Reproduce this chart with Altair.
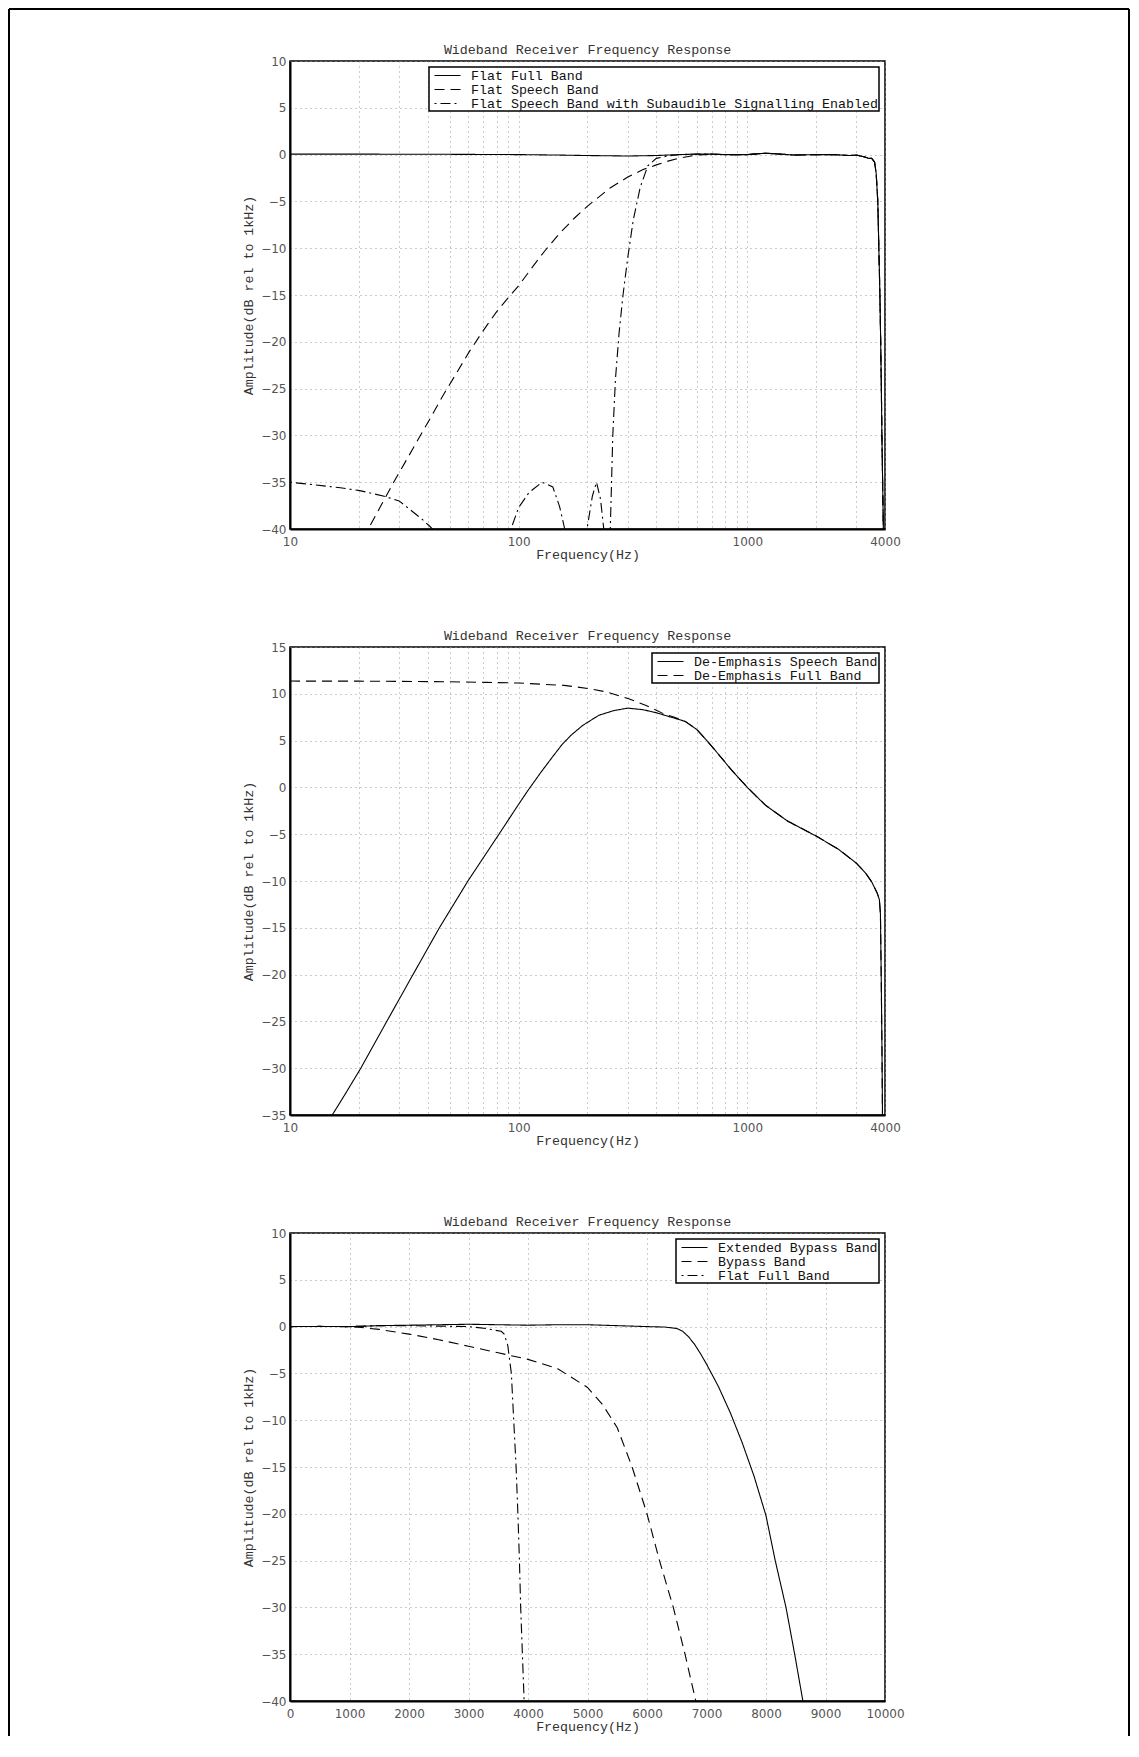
import altair as alt
import pandas as pd

TITLE = "Wideband Receiver Frequency Response"
X_TITLE = "Frequency(Hz)"
Y_TITLE = "Amplitude(dB rel to 1kHz)"

# ---------------- Panel 1 (log x, 10..4000 Hz) ----------------
P1_NAMES = ["Flat Full Band", "Flat Speech Band",
            "Flat Speech Band with Subaudible Signalling Enabled"]
P1_FULL_F = [10, 20, 50, 100, 150, 200, 300, 400, 500, 600,
             700, 800, 1000, 1200, 1400, 1600, 2000, 2400, 2800, 3000,
             3200, 3400, 3500, 3600, 3660, 3720, 3760, 3800, 3830, 3856,
             3877, 3906, 3935, 4000]
P1_FULL_DB = [0.05, 0.05, 0.03, 0.0, -0.05, -0.1, -0.15, -0.1, 0.0, 0.05,
              0.05, 0.0, 0.0, 0.15, 0.05, -0.05, 0.0, 0.0, -0.1, -0.05,
              -0.2, -0.4, -0.4, -0.8, -2.0, -5.0, -10.0, -15.0, -20.0, -25.0,
              -30.0, -35.0, -40.0, -45.0]
P1_SPEECH_F = [19, 22, 25, 28.4, 32, 36, 41, 46, 53, 61, 70,
               80, 90, 100, 115, 130, 150, 175, 200, 250, 300,
               350, 400, 450, 500, 600]
P1_SPEECH_DB = [-42.5, -40, -37.5, -35, -32.8, -30.6, -28.2, -26.0, -23.5, -21.0, -18.8,
                -16.8, -15.3, -14.0, -12.0, -10.3, -8.5, -6.8, -5.5, -3.6, -2.4,
                -1.6, -1.1, -0.7, -0.4, -0.05]
P1_SIG_F = [10, 13, 16.6, 20.2, 25.8, 30, 34.2, 38, 40.4, 42,
            60, 92.5, 100, 111, 126.5, 141, 151, 159, 180, 199,
            210, 219, 228, 235.6, 243, 251.6, 258, 265, 275, 286,
            300, 317, 340, 367, 400, 450]
P1_SIG_DB = [-35, -35.3, -35.6, -35.9, -36.5, -37.0, -38.1, -39.0, -39.6, -40,
             -70, -40, -37.7, -36.1, -35, -35.5, -37.6, -40, -70, -40,
             -36.5, -35, -36.8, -40, -70, -40, -30, -24, -19, -15,
             -11, -7, -3.5, -1.2, -0.4, -0.15]

# ---------------- Panel 2 (log x, 10..4000 Hz) ----------------
P2_NAMES = ["De-Emphasis Speech Band", "De-Emphasis Full Band"]
P2_SPEECH_F = [14, 15.3, 17.4, 20.4, 26.5, 34.5, 45, 60, 82, 100,
               110, 125, 140, 155, 170, 190, 224, 260, 300, 350,
               400, 450, 480, 535, 600, 666, 750, 850, 1000, 1200,
               1500, 2000, 2500, 3000, 3300, 3500, 3700, 3780, 3820, 3850,
               3880, 3900, 3950]
P2_SPEECH_DB = [-37.5, -35, -32.8, -30, -25, -20, -15, -10, -5, -1.8,
                -0.3, 1.6, 3.2, 4.6, 5.6, 6.6, 7.7, 8.2, 8.47, 8.3,
                7.98, 7.6, 7.4, 7.05, 6.2, 5.0, 3.5, 1.9, 0.0, -1.9,
                -3.6, -5.2, -6.6, -8.1, -9.2, -10.1, -11.3, -12.0, -13.5, -20,
                -28, -35, -42]
P2_FULL_F = [10, 20, 30, 50, 72, 100, 158, 205, 244, 303, 361, 430, 480, 535]
P2_FULL_DB = [11.36, 11.35, 11.33, 11.28, 11.22, 11.15, 10.9, 10.54, 10.18,
              9.47, 8.76, 7.87, 7.5, 7.05]

# ---------------- Panel 3 (linear x, 0..10000 Hz) ----------------
P3_NAMES = ["Extended Bypass Band", "Bypass Band", "Flat Full Band"]
P3_EXT_F = [0, 500, 1000, 1500, 2000, 2500, 3000, 3500, 4000, 4500,
            5000, 5500, 6000, 6300, 6500, 6600, 6700, 6800, 6900, 7000,
            7200, 7400, 7600, 7800, 8000, 8155, 8336, 8482, 8620, 8700]
P3_EXT_DB = [0, 0.02, 0.0, 0.1, 0.15, 0.2, 0.25, 0.2, 0.15, 0.2,
             0.2, 0.1, 0.0, -0.05, -0.2, -0.5, -1.1, -1.9, -2.9, -4.0,
             -6.4, -9.2, -12.4, -16.0, -20.2, -25, -30, -35, -40, -43]
P3_BYP_F = [0, 500, 1000, 1200, 1500, 2000, 2500, 3000, 3500, 4000,
            4500, 5000, 5250, 5500, 5750, 6000, 6210, 6442, 6639, 6820, 6900]
P3_BYP_DB = [0, 0.02, 0.0, -0.1, -0.3, -0.8, -1.4, -2.1, -2.8, -3.5,
             -4.5, -6.5, -8.3, -10.8, -15.0, -20.0, -25, -30, -35, -40, -42]
P3_FLAT_F = [0, 500, 1000, 1500, 2000, 2500, 3000, 3300, 3450, 3550,
             3600, 3660, 3720, 3760, 3800, 3830, 3856, 3877, 3906, 3935, 3960]
P3_FLAT_DB = [0, 0.02, 0.0, 0.1, 0.1, 0.05, 0, -0.2, -0.4, -0.5,
              -0.8, -2.0, -5.0, -10.0, -15.0, -20.0, -25.0, -30.0, -35.0, -40.0, -44.0]

LOG_TICKS = [10, 20, 30, 40, 50, 60, 70, 80, 90, 100, 200, 300, 400, 500, 600,
             700, 800, 900, 1000, 2000, 3000, 4000]
LIN_TICKS = list(range(0, 10001, 1000))
Y1_TICKS = list(range(-40, 11, 5))
Y2_TICKS = list(range(-35, 16, 5))
Y3_TICKS = list(range(-40, 11, 5))

DASH_SOLID, DASH_DASH, DASH_DASHDOT = [1, 0], [10, 6], [2, 4, 10, 4]
MONO = "Liberation Mono"


def rows(name, fs, ds, tail_f=None, tail_d=None, after=None):
    out = [{"series": name, "f": f, "db": d} for f, d in zip(fs, ds)]
    if tail_f is not None:
        out += [{"series": name, "f": f, "db": d}
                for f, d in zip(tail_f, tail_d) if f > after]
    return out


df1 = pd.DataFrame(
    rows(P1_NAMES[0], P1_FULL_F, P1_FULL_DB)
    + rows(P1_NAMES[1], P1_SPEECH_F, P1_SPEECH_DB, P1_FULL_F, P1_FULL_DB, 600)
    + rows(P1_NAMES[2], P1_SIG_F, P1_SIG_DB, P1_FULL_F, P1_FULL_DB, 450)
)
df2 = pd.DataFrame(
    rows(P2_NAMES[0], P2_SPEECH_F, P2_SPEECH_DB)
    + rows(P2_NAMES[1], P2_FULL_F, P2_FULL_DB, P2_SPEECH_F, P2_SPEECH_DB, 535)
)
df3 = pd.DataFrame(
    rows(P3_NAMES[0], P3_EXT_F, P3_EXT_DB)
    + rows(P3_NAMES[1], P3_BYP_F, P3_BYP_DB)
    + rows(P3_NAMES[2], P3_FLAT_F, P3_FLAT_DB)
)

W, H = 595, 468


def legend():
    return alt.Legend(title=None, orient="top-right", offset=6,
                      symbolType="M-2,0H2", symbolSize=169,
                      symbolStrokeWidth=1.2, symbolStrokeColor="black",
                      symbolFillColor="transparent",
                      labelFont=MONO, labelFontSize=13.3, labelColor="#111",
                      labelLimit=0, labelOffset=16, symbolOffset=10,
                      strokeColor="black", fillColor="white",
                      padding=1, rowPadding=0)


def log_axis():
    return alt.Axis(values=LOG_TICKS, format="d", title=X_TITLE,
                    labelExpr="indexof([10,100,1000,4000], datum.value) >= 0 ? datum.label : ''",
                    labelOverlap=False, labelFlush=False, grid=True)


def y_axis(vals):
    return alt.Axis(values=vals, title=Y_TITLE, grid=True, labelOverlap=False)


def lines(df, names, dashes, xscale, xaxis, ydom, yvals):
    return alt.Chart(df).mark_line(color="black", strokeWidth=1.1, clip=True).encode(
        x=alt.X("f:Q", scale=xscale, axis=xaxis),
        y=alt.Y("db:Q", scale=alt.Scale(domain=ydom, nice=False, zero=False),
                axis=y_axis(yvals)),
        strokeDash=alt.StrokeDash("series:N",
                                  scale=alt.Scale(domain=names, range=dashes),
                                  legend=legend()),
    ).properties(width=W, height=H, title=TITLE)


p1 = lines(df1, P1_NAMES, [DASH_SOLID, DASH_DASH, DASH_DASHDOT],
           alt.Scale(type="log", domain=[10, 4000], nice=False), log_axis(),
           [-40, 10], Y1_TICKS)
p2 = lines(df2, P2_NAMES, [DASH_SOLID, DASH_DASH],
           alt.Scale(type="log", domain=[10, 4000], nice=False), log_axis(),
           [-35, 15], Y2_TICKS)
p3 = lines(df3, P3_NAMES, [DASH_SOLID, DASH_DASH, DASH_DASHDOT],
           alt.Scale(domain=[0, 10000], nice=False, zero=False),
           alt.Axis(values=LIN_TICKS, format="d", title=X_TITLE,
                    labelOverlap=False, labelFlush=False, grid=True),
           [-40, 10], Y3_TICKS)

panels = alt.vconcat(p1, p2, p3, spacing=118, bounds="flush").resolve_scale(
    x="independent", y="independent", strokeDash="independent"
).resolve_legend(strokeDash="independent")

# outer figure frame (left, top and right edges), kept in its own tiny view
frame_df = pd.DataFrame({"k": [0]})
fr = alt.Chart(frame_df).mark_rule(color="black", strokeWidth=2)
frame_left = fr.encode(x=alt.value(-180), y=alt.value(-52), y2=alt.value(1675))
frame_top = fr.encode(x=alt.value(-180), x2=alt.value(940), y=alt.value(-52))
frame_right = fr.encode(x=alt.value(940), y=alt.value(-52), y2=alt.value(1675))
frame = alt.layer(frame_left, frame_top, frame_right).properties(
    width=1, height=1, view=alt.ViewBackground(strokeOpacity=0))

chart = alt.hconcat(frame, panels, spacing=100, bounds="flush").properties(
    padding=0
).configure_view(
    stroke="black", strokeWidth=1.5
).configure_axis(
    labelFont="DejaVu Sans", labelFontSize=12, labelColor="#555",
    titleFont=MONO, titleFontSize=13.3, titleFontWeight="normal", titleColor="#333",
    gridColor="#999", gridDash=[1, 4], gridWidth=1,
    domainColor="black", domainWidth=2, ticks=False, labelPadding=4
).configure_axisX(
    titlePadding=0, labelPadding=7
).configure_axisY(
    titlePadding=5
).configure_title(
    font=MONO, fontSize=13.3, fontWeight="normal", color="#333", offset=-1,
    anchor="middle", frame="group"
).configure_legend(
    strokeWidth=1.5
)

chart.save("out.html", embed_options={"renderer": "svg", "actions": False})
